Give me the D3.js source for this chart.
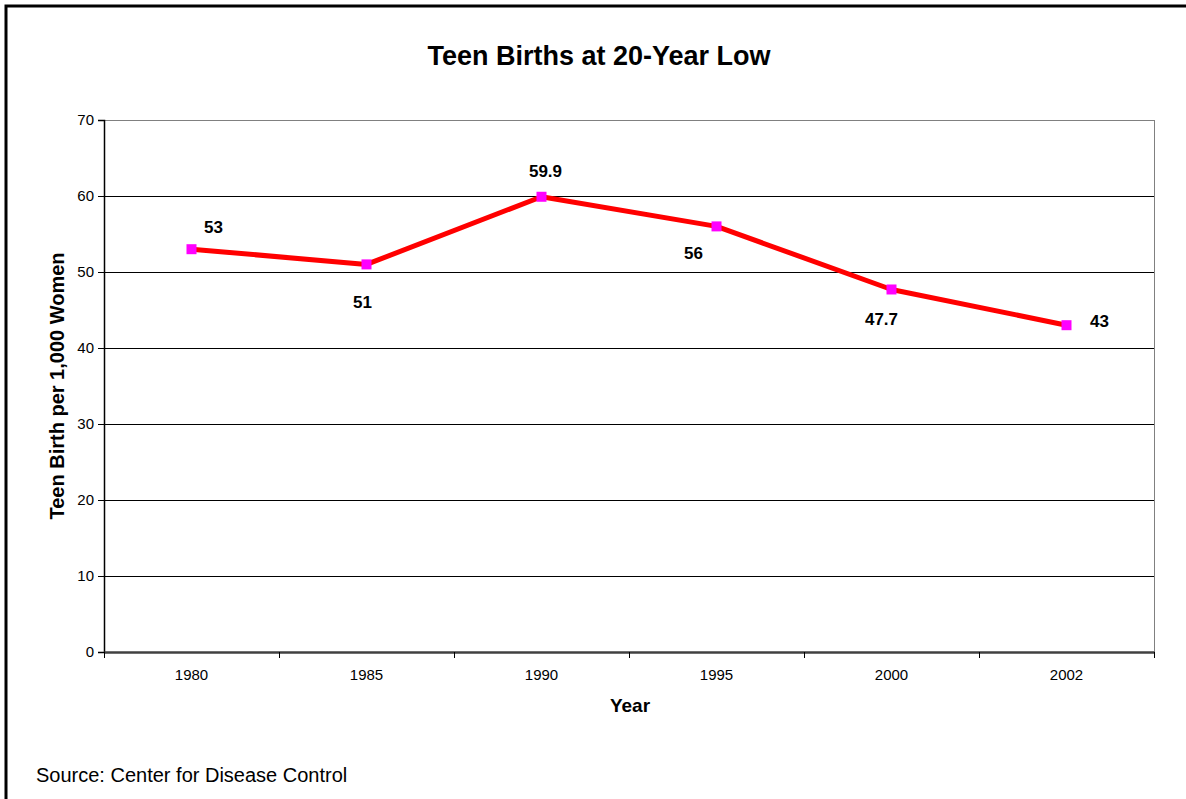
<!DOCTYPE html>
<html>
<head>
<meta charset="utf-8">
<script src="https://cdn.jsdelivr.net/npm/d3@7"></script>
<style>
  html, body { margin: 0; padding: 0; background: #fff; }
  svg { display: block; font-family: Arial, "Liberation Sans", sans-serif; }
  .axis text { font-size: 15px; font-family: Arial, "Liberation Sans", sans-serif; fill: #000; }
</style>
</head>
<body>
<svg id="chart" width="1186" height="799"></svg>
<script>
// Teen birth rate per 1,000 women, by year
const years = ["1980", "1985", "1990", "1995", "2000", "2002"];
const rates = [53, 51, 59.9, 56, 47.7, 43];
const yTicks = [0, 10, 20, 30, 40, 50, 60, 70];

const svg = d3.select("#chart");
const W = 1186, H = 799;
const plot = { left: 104, right: 1154, top: 120, bottom: 652 };

// outer frame (runs off the right and bottom edges)
svg.append("path")
  .attr("d", `M6,${H + 5} L6,6 L${W + 5},6`)
  .attr("fill", "none").attr("stroke", "#000").attr("stroke-width", 3);

const x = d3.scaleBand().domain(years).range([plot.left, plot.right]);
const y = d3.scaleLinear().domain([0, 70]).range([plot.bottom, plot.top]);

// horizontal gridlines
svg.append("g").selectAll("line").data(yTicks.filter(t => t > 0 && t < 70)).join("line")
  .attr("x1", plot.left).attr("x2", plot.right)
  .attr("y1", d => y(d)).attr("y2", d => y(d))
  .attr("stroke", "#000").attr("stroke-width", 1).attr("shape-rendering", "crispEdges");

// plot area border (top and right)
svg.append("path")
  .attr("d", `M${plot.left},${y(70)} L${plot.right},${y(70)} L${plot.right},${plot.bottom}`)
  .attr("fill", "none").attr("stroke", "#808080").attr("stroke-width", 1).attr("shape-rendering", "crispEdges");

// y axis
const yAxis = svg.append("g")
  .attr("class", "axis")
  .attr("transform", `translate(${plot.left},0)`)
  .call(d3.axisLeft(y).tickValues(yTicks).tickSize(6).tickPadding(4));
yAxis.select(".domain").attr("stroke", "#000").attr("stroke-width", 1.5);
yAxis.selectAll(".tick line").attr("stroke", "#000");

// x axis with ticks between categories
const xAxis = svg.append("g")
  .attr("class", "axis")
  .attr("transform", `translate(0,${plot.bottom})`)
  .call(d3.axisBottom(x).tickSize(0).tickPadding(17));
xAxis.select(".domain").attr("stroke", "#404040").attr("stroke-width", 2.5);
const bounds = years.map(d => x(d)).concat([plot.right]);
xAxis.append("g").selectAll("line").data(bounds).join("line")
  .attr("x1", d => d).attr("x2", d => d).attr("y1", 0).attr("y2", 6)
  .attr("stroke", "#000").attr("stroke-width", 1).attr("shape-rendering", "crispEdges");

// data line
const cx = d => x(d) + x.bandwidth() / 2;
const line = d3.line().x((d, i) => cx(years[i])).y(d => y(d));
svg.append("path").datum(rates)
  .attr("d", line)
  .attr("fill", "none").attr("stroke", "#ff0000").attr("stroke-width", 5)
  .attr("stroke-linejoin", "round");

// square markers
const m = 10;
svg.append("g").selectAll("rect").data(rates).join("rect")
  .attr("x", (d, i) => cx(years[i]) - m / 2)
  .attr("y", d => y(d) - m / 2)
  .attr("width", m).attr("height", m)
  .attr("fill", "#ff00ff");

// value labels, offset from each point
const labelOffset = [[22, -16], [-4, 44], [4, -20], [-23, 33], [-10, 36], [33, 2]];
svg.append("g").selectAll("text").data(rates).join("text")
  .attr("x", (d, i) => cx(years[i]) + labelOffset[i][0])
  .attr("y", (d, i) => y(d) + labelOffset[i][1])
  .attr("text-anchor", "middle")
  .attr("font-size", 17).attr("font-weight", "bold").attr("fill", "#000")
  .text(d => d);

// title
svg.append("text")
  .attr("x", 599).attr("y", 65)
  .attr("text-anchor", "middle")
  .attr("font-size", 27).attr("font-weight", "bold")
  .text("Teen Births at 20-Year Low");

// axis titles
svg.append("text")
  .attr("transform", `translate(64,${(plot.top + plot.bottom) / 2}) rotate(-90)`)
  .attr("text-anchor", "middle")
  .attr("font-size", 20).attr("font-weight", "bold")
  .text("Teen Birth per 1,000 Women");

svg.append("text")
  .attr("x", 630).attr("y", 712)
  .attr("text-anchor", "middle")
  .attr("font-size", 19).attr("font-weight", "bold")
  .text("Year");

// source note
svg.append("text")
  .attr("x", 36).attr("y", 782)
  .attr("font-size", 20)
  .text("Source: Center for Disease Control");
</script>
</body>
</html>
